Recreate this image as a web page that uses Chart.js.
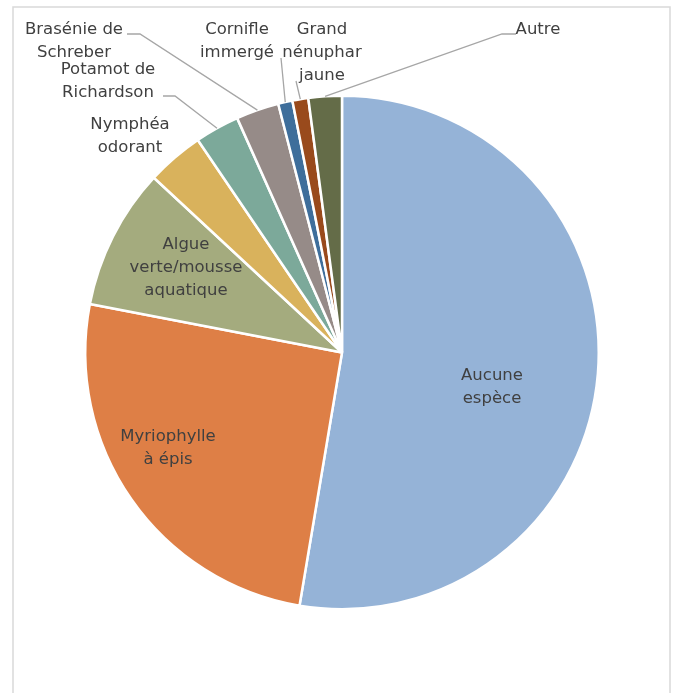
<!DOCTYPE html>
<html>
<head>
<meta charset="utf-8">
<script src="https://cdn.jsdelivr.net/npm/chart.js@4/dist/chart.umd.min.js"></script>
<style>
  html, body { margin: 0; padding: 0; background: #fff; }
  canvas { display: block; }
</style>
</head>
<body>
<canvas id="chart" width="674" height="693"></canvas>
<script>
// Espèces observées (part en %), lecture sur le graphique
const categories = [
  ['Aucune', 'espèce'],
  ['Myriophylle', 'à épis'],
  ['Algue', 'verte/mousse', 'aquatique'],
  ['Nymphéa', 'odorant'],
  ['Potamot de', 'Richardson'],
  ['Brasénie de', 'Schreber'],
  ['Cornifle', 'immergé'],
  ['Grand', 'nénuphar', 'jaune'],
  ['Autre']
];
const shares = [52.7, 25.4, 8.9, 3.6, 2.8, 2.7, 0.9, 1.0, 2.1];
const sliceColors = ['#95b3d7', '#de7f46', '#a4ab7e', '#d9b25c', '#7ca99a', '#968b88', '#3e6e9b', '#994a1c', '#646c48'];

// Position des étiquettes (centre du texte) et des lignes de rappel
const labelSpots = [
  { x: 492, y: 376 },
  { x: 168, y: 437 },
  { x: 186, y: 245 },
  { x: 130, y: 125 },
  { x: 108, y: 70 },
  { x: 74, y: 30 },
  { x: 237, y: 30 },
  { x: 322, y: 30 },
  { x: 538, y: 30 }
];
const leaders = {
  4: [[163, 96], [175, 96]],
  5: [[127, 34], [140, 34]],
  6: [[281, 58]],
  7: [[296, 81]],
  8: [[516, 34], [502, 34]]
};

const FONT = '16.5px "DejaVu Sans", sans-serif';
const LINE_H = 23;

const framePlugin = {
  id: 'frame',
  beforeDraw(chart) {
    const ctx = chart.ctx;
    ctx.save();
    ctx.strokeStyle = '#d9d9d9';
    ctx.lineWidth = 1.5;
    ctx.strokeRect(13, 7, 657, 700);
    ctx.restore();
  }
};

const labelPlugin = {
  id: 'sliceLabels',
  afterDatasetsDraw(chart) {
    const ctx = chart.ctx;
    const arcs = chart.getDatasetMeta(0).data;
    ctx.save();

    // lignes de rappel
    ctx.strokeStyle = '#a6a6a6';
    ctx.lineWidth = 1.3;
    Object.keys(leaders).forEach(k => {
      const arc = arcs[k];
      const p = arc.getProps(['x', 'y', 'startAngle', 'endAngle', 'outerRadius'], true);
      const mid = (p.startAngle + p.endAngle) / 2;
      const ex = p.x + Math.cos(mid) * p.outerRadius;
      const ey = p.y + Math.sin(mid) * p.outerRadius;
      ctx.beginPath();
      leaders[k].forEach((pt, i) => i ? ctx.lineTo(pt[0], pt[1]) : ctx.moveTo(pt[0], pt[1]));
      ctx.lineTo(ex, ey);
      ctx.stroke();
    });

    // textes
    ctx.font = FONT;
    ctx.fillStyle = '#404040';
    ctx.textAlign = 'center';
    ctx.textBaseline = 'middle';
    categories.forEach((lines, i) => {
      const s = labelSpots[i];
      lines.forEach((t, j) => ctx.fillText(t, s.x, s.y + j * LINE_H));
    });
    ctx.restore();
  }
};

new Chart(document.getElementById('chart'), {
  type: 'pie',
  data: {
    labels: categories,
    datasets: [{
      data: shares,
      backgroundColor: sliceColors,
      borderColor: '#ffffff',
      borderWidth: 2.5
    }]
  },
  options: {
    responsive: false,
    animation: false,
    layout: { padding: { top: 94, bottom: 82, left: 84, right: 74 } },
    plugins: {
      legend: { display: false },
      tooltip: { enabled: false }
    }
  },
  plugins: [framePlugin, labelPlugin]
});
</script>
</body>
</html>
